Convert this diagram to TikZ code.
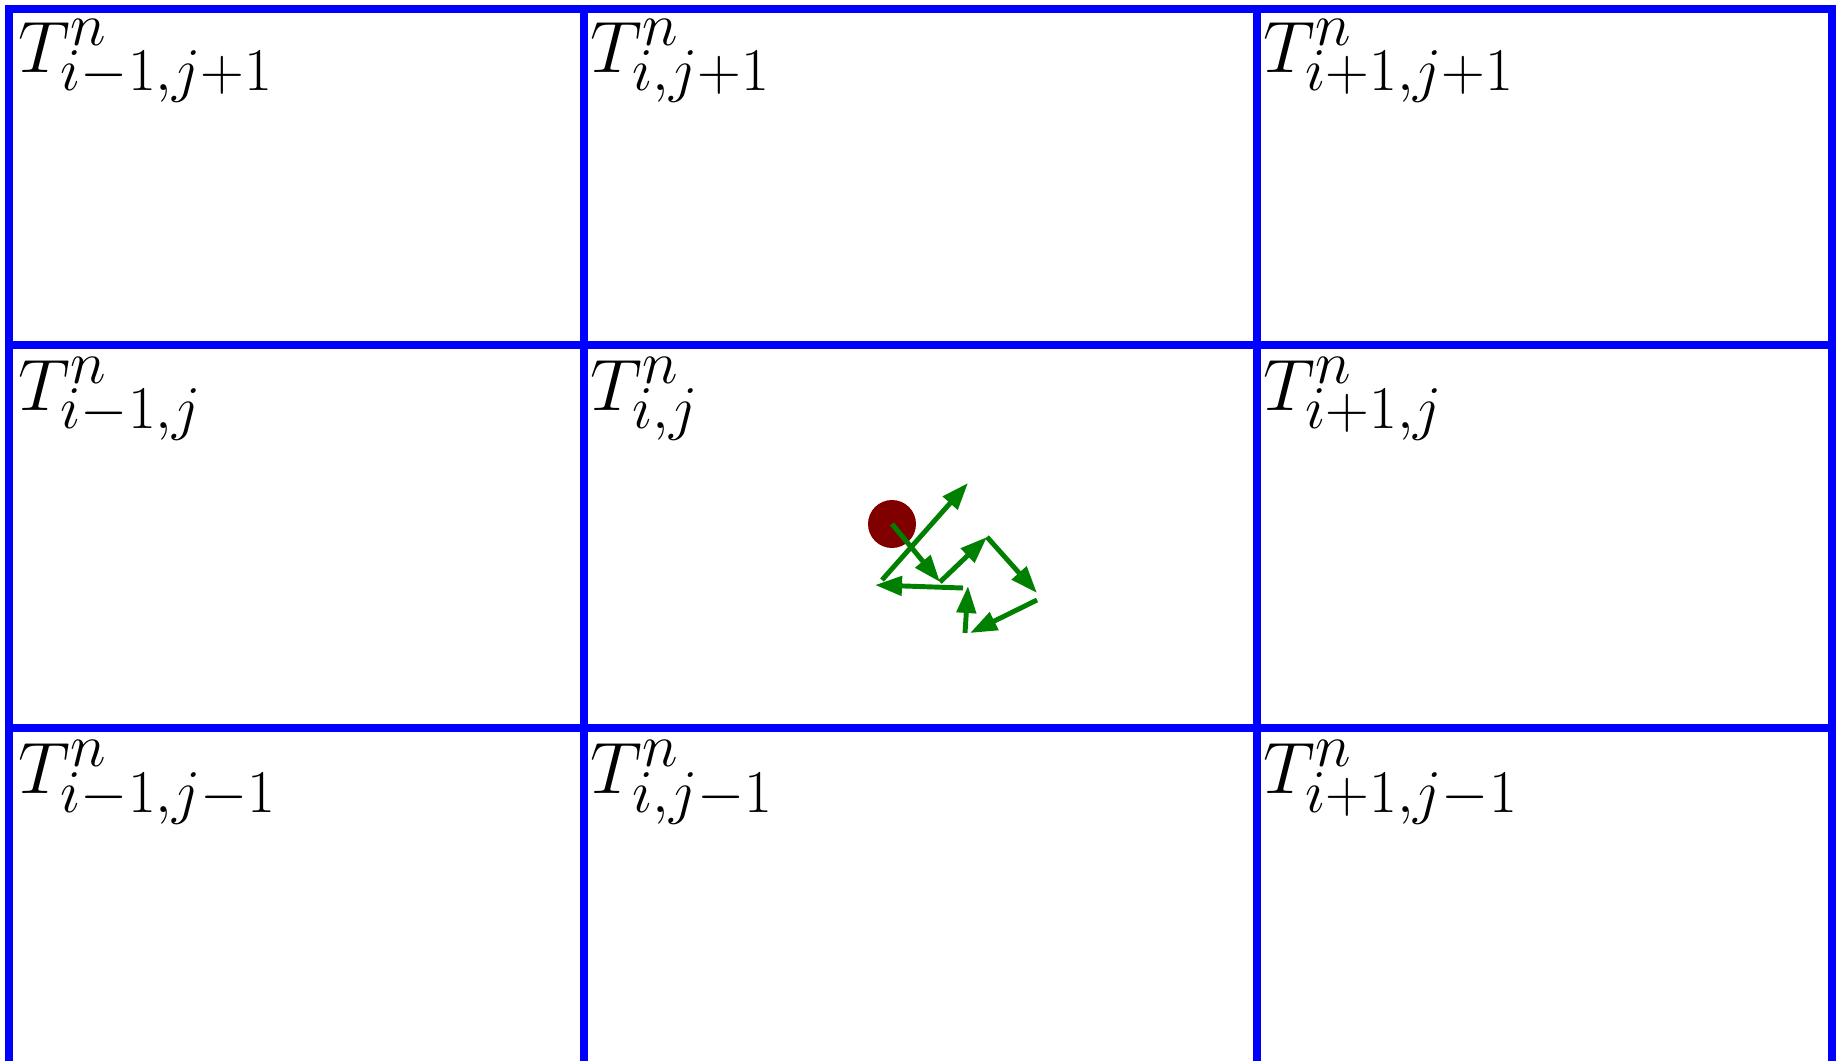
\documentclass[tikz,border=0pt]{standalone}
\usepackage{xcolor}
\usepackage{tikz}
\usetikzlibrary{arrows.meta,positioning,calc}
\DeclareMathSizes{20}{20}{16.8}{13}

\begin{document}
\begin{tikzpicture}[
    gridline/.style={blue, line width=2.3pt},
    walk/.style={green!50!black, line width=1.4pt, -{Triangle[length=0.27cm,width=0.19cm]}},
    cell/.style={anchor=base west, inner sep=0pt, font=\fontsize{20}{24}\selectfont}
]
\useasboundingbox (0,0) rectangle (18.39,10.61);

% grid of cells
\draw[gridline] (0.09,0) -- (0.09,10.52) -- (18.32,10.52) -- (18.32,0);
\draw[gridline] (0.09,7.16) -- (18.32,7.16);
\draw[gridline] (0.09,3.33) -- (18.32,3.33);
\draw[gridline] (5.84,10.52) -- (5.84,0);
\draw[gridline] (12.57,10.52) -- (12.57,0);

\node[cell] (Tnw) at (0.18,9.89) {$T^n_{i-1,j+1}$};
\node[cell] (Tn)  at (5.90,9.89) {$T^n_{i,j+1}$};
\node[cell] (Tne) at (12.63,9.89) {$T^n_{i+1,j+1}$};
\node[cell] (Tw)  at (0.18,6.51) {$T^n_{i-1,j}$};
\node[cell] (Tc)  at (5.90,6.51) {$T^n_{i,j}$};
\node[cell] (Te)  at (12.63,6.51) {$T^n_{i+1,j}$};
\node[cell] (Tsw) at (0.18,2.68) {$T^n_{i-1,j-1}$};
\node[cell] (Ts)  at (5.90,2.68) {$T^n_{i,j-1}$};
\node[cell] (Tse) at (12.63,2.68) {$T^n_{i+1,j-1}$};

% particle and its random walk
\node[circle, fill=red!50!black, minimum size=0.48cm, inner sep=0pt] (particle) at (8.92,5.37) {};

\coordinate (w1) at (9.40,4.79);
\coordinate (w2) at (9.87,5.24);
\coordinate (w3) at (10.37,4.68);
\coordinate (w4) at (9.70,4.28);
\coordinate (w5) at (9.68,4.75);
\coordinate (w6) at (8.75,4.76);
\coordinate (w7) at (9.68,5.78);

\draw[walk] (particle.center) -- (w1);
\draw[walk] (w1) -- (w2);
\draw[walk] (w2) -- (w3);
\draw[walk] ([yshift=-0.07cm]w3) -- (w4);
\draw[walk] ([xshift=-0.05cm]w4) -- (w5);
\draw[walk] ([xshift=-0.05cm,yshift=-0.02cm]w5) -- (w6);
\draw[walk] ([xshift=0.07cm,yshift=0.05cm]w6) -- (w7);
\end{tikzpicture}
\end{document}
